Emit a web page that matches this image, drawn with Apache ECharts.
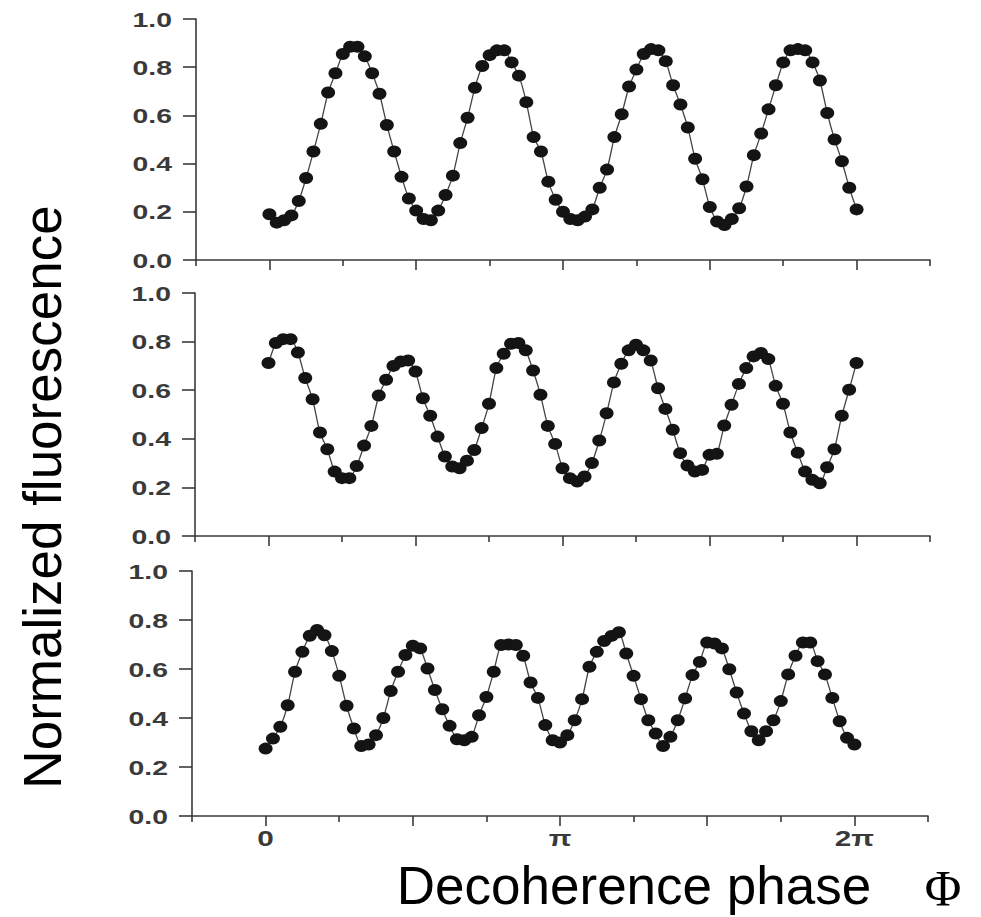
<!DOCTYPE html>
<html>
<head>
<meta charset="utf-8">
<script src="https://cdn.jsdelivr.net/npm/echarts@6/dist/echarts.min.js"></script>
<style>
html,body{margin:0;padding:0;background:#fff;}
#c{width:981px;height:917px;}
</style>
</head>
<body>
<div id="c"></div>
<script>
// Phase sample positions, in units of pi/40 (0 .. 80 = 0 .. 2pi)
const phaseIdx = [0,1,2,3,4,5,6,7,8,9,10,11,12,13,14,15,16,17,18,19,20,21,22,23,24,25,26,27,28,29,30,31,32,33,34,35,36,37,38,39,40,41,42,43,44,45,46,47,48,49,50,51,52,53,54,55,56,57,58,59,60,61,62,63,64,65,66,67,68,69,70,71,72,73,74,75,76,77,78,79,80];

// Normalized fluorescence, top panel
const topVals = [0.19,0.155,0.165,0.185,0.245,0.34,0.45,0.565,0.695,0.775,
  0.855,0.885,0.885,0.845,0.775,0.69,0.56,0.45,0.345,0.255,
  0.205,0.17,0.165,0.205,0.27,0.35,0.485,0.59,0.715,0.805,
  0.85,0.87,0.87,0.82,0.765,0.655,0.51,0.45,0.325,0.25,
  0.2,
  0.17,0.165,0.18,0.21,0.3,0.375,0.51,0.605,0.72,0.79,
  0.855,0.875,0.87,0.825,0.725,0.645,0.55,0.42,0.335,0.22,
  0.16,0.145,0.17,0.215,0.305,0.435,0.525,0.625,0.725,0.82,
  0.87,0.875,0.87,0.82,0.745,0.61,0.5,0.41,0.3,0.21];

// middle panel
const midVals = [0.712,0.794,0.81,0.81,0.755,0.65,0.563,0.426,0.357,0.265,
  0.238,0.238,0.288,0.372,0.453,0.578,0.643,0.70,0.718,0.722,
  0.677,0.567,0.495,0.409,0.327,0.286,0.279,0.31,0.354,0.444,
  0.544,0.691,0.75,0.791,0.794,0.764,0.681,0.581,0.453,0.379,
  0.279,
  0.238,0.224,0.245,0.30,0.393,0.505,0.632,0.709,0.764,0.787,
  0.764,0.722,0.608,0.523,0.437,0.341,0.29,0.265,0.272,0.334,
  0.338,0.455,0.54,0.626,0.691,0.739,0.753,0.728,0.618,0.544,
  0.426,0.343,0.265,0.231,0.217,0.283,0.357,0.495,0.602,0.712];

// bottom panel
const botVals = [0.275,0.316,0.364,0.452,0.589,0.67,0.736,0.759,0.738,0.673,
  0.572,0.45,0.357,0.286,0.292,0.33,0.40,0.51,0.589,0.657,
  0.695,0.684,0.602,0.514,0.436,0.368,0.313,0.309,0.323,0.411,
  0.486,0.589,0.698,0.70,0.698,0.654,0.545,0.482,0.371,0.309,
  0.30,
  0.33,0.391,0.477,0.609,0.67,0.714,0.735,0.75,0.663,0.572,
  0.477,0.391,0.337,0.286,0.323,0.391,0.48,0.575,0.629,0.708,
  0.704,0.684,0.599,0.504,0.418,0.346,0.309,0.346,0.391,0.469,
  0.578,0.654,0.708,0.708,0.632,0.578,0.482,0.387,0.319,0.292];

const yTickValues = [0, 0.2, 0.4, 0.6, 0.8, 1.0];
const yTickLabels = ['0.0', '0.2', '0.4', '0.6', '0.8', '1.0'];
const xLabelValues = [0, 40, 80];
const xLabelTexts = ['0', 'π', '2π'];
const xMajorTicks = [0, 20, 40, 60, 80];
const xMinorTicks = [-10, 10, 30, 50, 70, 90];

const panels = [topVals, midVals, botVals];
const grids = [
  {left: 196, right: 51, top: 19, height: 241},
  {left: 195, right: 51, top: 293, height: 243},
  {left: 192, right: 53, top: 571, height: 245}
];

const axisColor = '#3a3a3a';
const xAxes = [], yAxes = [], series = [];
grids.forEach((g, k) => {
  xAxes.push({
    type: 'value', gridIndex: k, position: 'bottom', min: -10, max: 90, interval: 10,
    axisLine: {show: true, onZero: false, lineStyle: {color: axisColor, width: 1.6}},
    axisTick: {show: true, customValues: xMajorTicks, length: 10, lineStyle: {color: axisColor, width: 1.6}},
    axisLabel: {show: false}, splitLine: {show: false}
  });
  xAxes.push({
    type: 'value', gridIndex: k, position: 'bottom', min: -10, max: 90, interval: 10,
    axisLine: {show: false, onZero: false},
    axisTick: {show: true, customValues: xMinorTicks, length: 6, lineStyle: {color: axisColor, width: 1.6}},
    axisLabel: {show: false}, splitLine: {show: false}
  });
  yAxes.push({
    type: 'value', gridIndex: k, min: 0, max: 1, interval: 0.2,
    axisLine: {show: true, onZero: false, lineStyle: {color: axisColor, width: 1.6}},
    axisTick: {show: true, length: 13, lineStyle: {color: axisColor, width: 1.6}},
    axisLabel: {show: false}, splitLine: {show: false}
  });
  series.push({
    type: 'line', xAxisIndex: 2 * k, yAxisIndex: k,
    data: phaseIdx.map((p, i) => [p, panels[k][i]]),
    symbol: 'circle', symbolSize: [14, 12], smooth: 0.2,
    itemStyle: {color: '#141414'},
    lineStyle: {color: '#444', width: 1.3},
    animation: false, silent: true
  });
});

const chart = echarts.init(document.getElementById('c'), null, {renderer: 'svg'});
chart.setOption({
  backgroundColor: '#fff',
  animation: false,
  grid: grids,
  xAxis: xAxes,
  yAxis: yAxes,
  series: series
});

const gfx = [];
grids.forEach((g, k) => {
  yTickValues.forEach((v, j) => {
    const p = chart.convertToPixel({xAxisIndex: 2 * k, yAxisIndex: k}, [-10, v]);
    gfx.push({type: 'text', x: p[0] - 24, y: p[1], scaleX: 1.35,
      style: {text: yTickLabels[j], fontSize: 21, fontWeight: 'bold', fontFamily: 'Liberation Sans, Arial, sans-serif',
        fill: '#3a3a3a', align: 'right', verticalAlign: 'middle'}});
  });
});
xLabelValues.forEach((v, j) => {
  const p = chart.convertToPixel({xAxisIndex: 4, yAxisIndex: 2}, [v, 0]);
  gfx.push({type: 'text', x: p[0], y: p[1] + 22, scaleX: 1.35,
    style: {text: xLabelTexts[j], fontSize: 22, fontWeight: 'bold', fontFamily: 'Liberation Sans, Arial, sans-serif',
      fill: '#3a3a3a', align: 'center', verticalAlign: 'middle'}});
});
gfx.push({type: 'text', x: 42, y: 497, rotation: Math.PI / 2,
  style: {text: 'Normalized fluorescence', fontSize: 53, fontFamily: 'Liberation Sans, Arial, sans-serif',
    fill: '#000', align: 'center', verticalAlign: 'middle'}});
gfx.push({type: 'text', x: 634, y: 885,
  style: {text: 'Decoherence phase', fontSize: 53, fontFamily: 'Liberation Sans, Arial, sans-serif',
    fill: '#000', align: 'center', verticalAlign: 'middle'}});
gfx.push({type: 'text', x: 943, y: 888,
  style: {text: 'Φ', fontSize: 50, fontFamily: 'Liberation Serif, Times New Roman, serif',
    fill: '#000', align: 'center', verticalAlign: 'middle'}});
chart.setOption({graphic: gfx});
</script>
</body>
</html>
